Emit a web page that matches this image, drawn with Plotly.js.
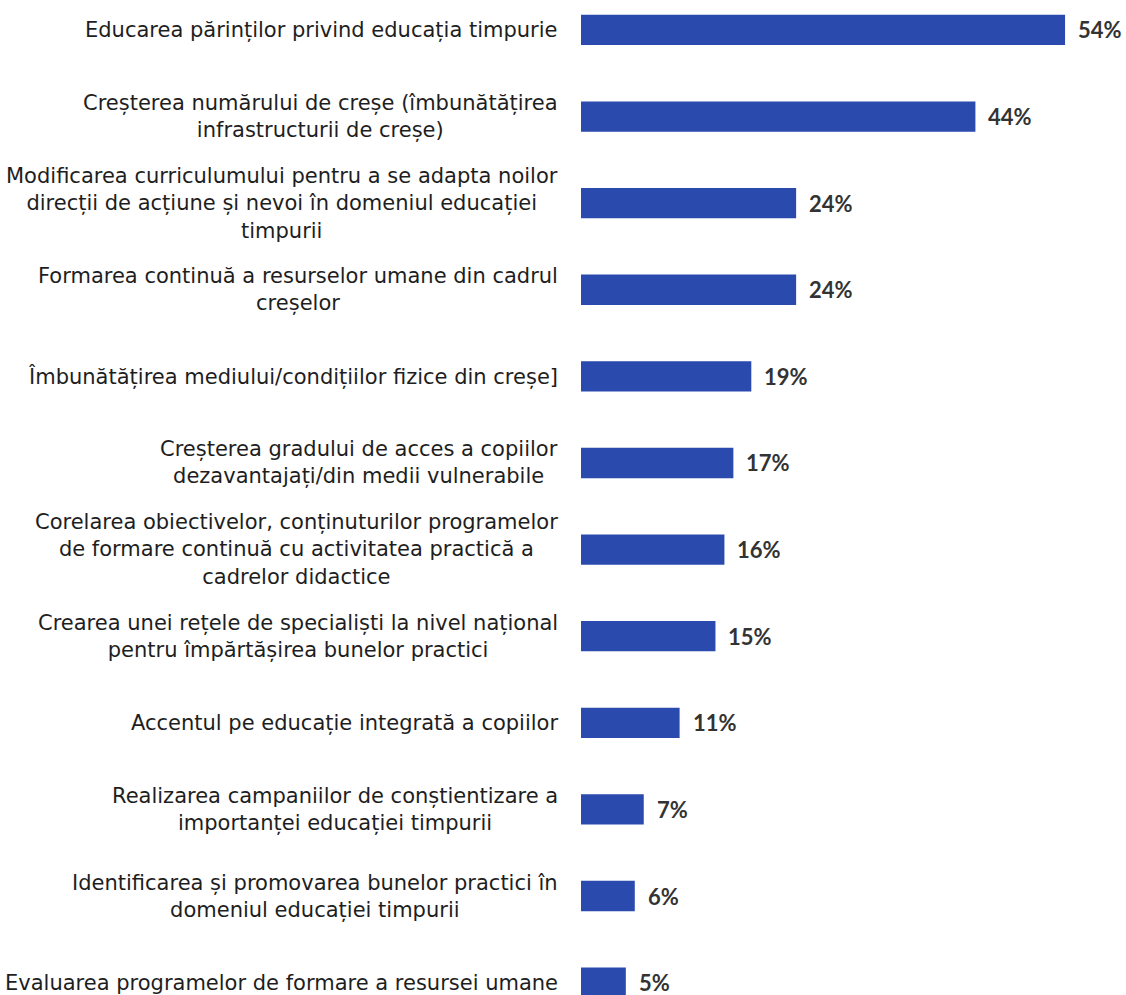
<!DOCTYPE html>
<html><head><meta charset="utf-8">
<script src="https://cdn.plot.ly/plotly-3.0.1.min.js"></script>
<style>html,body{margin:0;padding:0;background:#fff}#c{width:1126px;height:995px}</style>
</head><body><div id="c"></div>
<script>
const categories = [
  "Educarea părinților privind educația timpurie",
  "Creșterea numărului de creșe (îmbunătățirea<br>infrastructurii de creșe)",
  "Modificarea curriculumului pentru a se adapta noilor<br>direcții de acțiune și nevoi în domeniul educației<br>timpurii",
  "Formarea continuă a resurselor umane din cadrul<br>creșelor",
  "Îmbunătățirea mediului/condițiilor fizice din creșe]",
  "Creșterea gradului de acces a copiilor<br>dezavantajați/din medii vulnerabile",
  "Corelarea obiectivelor, conținuturilor programelor<br>de formare continuă cu activitatea practică a<br>cadrelor didactice",
  "Crearea unei rețele de specialiști la nivel național<br>pentru împărtășirea bunelor practici",
  "Accentul pe educație integrată a copiilor",
  "Realizarea campaniilor de conștientizare a<br>importanței educației timpurii",
  "Identificarea și promovarea bunelor practici în<br>domeniul educației timpurii",
  "Evaluarea programelor de formare a resursei umane"
];
const values = [54, 44, 24, 24, 19, 17, 16, 15, 11, 7, 6, 5];
const valueLabels = values.map(v => v + "%");

const labelFont = {family: "'DejaVu Sans', sans-serif", size: 21, color: "#1e1e1e"};
const valueFont = {family: "Lato, 'Open Sans', sans-serif", size: 22, color: "#333", weight: 700};

const annotations = [];
categories.forEach((c, i) => {
  annotations.push({x: 0, y: c, xref: "x", yref: "y", text: c, showarrow: false,
    xanchor: "right", yanchor: "middle", align: "center", xshift: -21, font: labelFont});
  annotations.push({x: values[i], y: c, xref: "x", yref: "y", text: "<b>" + valueLabels[i] + "</b>", showarrow: false,
    xanchor: "left", yanchor: "middle", xshift: 11, font: valueFont});
});

const trace = {
  type: "bar", orientation: "h", x: values, y: categories,
  marker: {color: "#2a4aad", line: {width: 0}},
  width: 0.35, hoverinfo: "skip"
};
const layout = {
  width: 1126, height: 995,
  margin: {l: 581, r: 0, t: 0, b: 0, pad: 0},
  paper_bgcolor: "#fff", plot_bgcolor: "#fff",
  showlegend: false,
  xaxis: {range: [0, 60.8], visible: false, fixedrange: true},
  yaxis: {type: "category", categoryorder: "array", categoryarray: categories,
    range: [11.143, -0.346], showticklabels: false, showgrid: false, zeroline: false, showline: false, ticks: ""},
  annotations: annotations
};
Plotly.newPlot("c", [trace], layout, {displayModeBar: false, staticPlot: true});
</script></body></html>
